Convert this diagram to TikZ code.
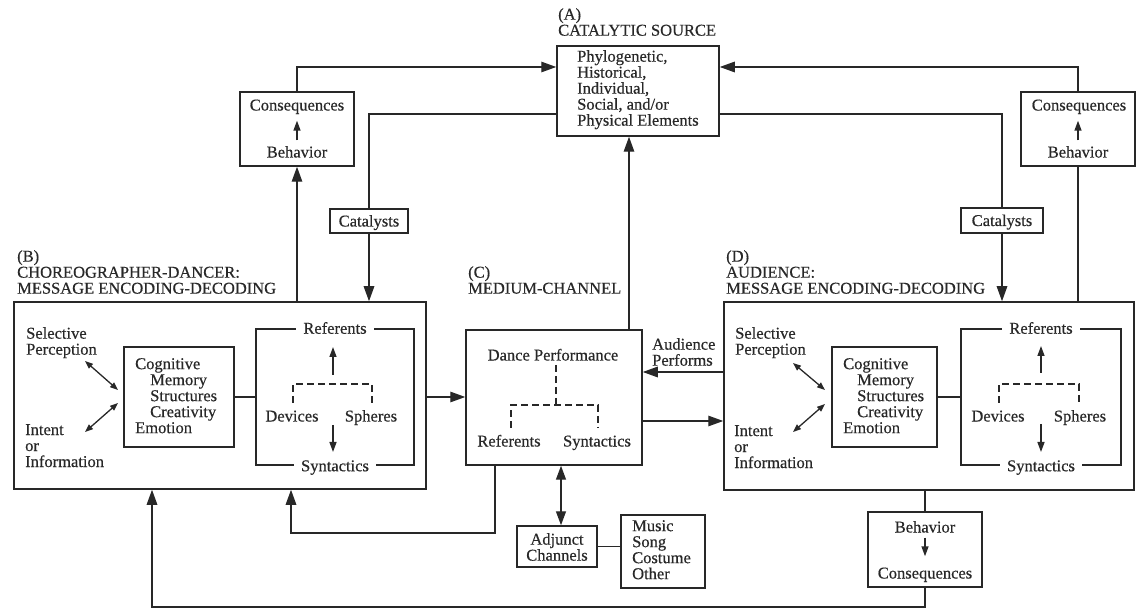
\documentclass[tikz,border=0pt]{standalone}
\usepackage{fontspec}
\setmainfont{Liberation Serif}[FakeBold=0.5]
\usetikzlibrary{arrows.meta}
\definecolor{ink}{RGB}{40,40,40}
\begin{document}
\begin{tikzpicture}[x=1pt,y=-1pt,
  every node/.style={font=\fontsize{16.5}{16}\selectfont, text=ink},
  box/.style={draw=ink, line width=1.5pt, inner sep=0pt},
  lbl/.style={inner sep=0pt, text height=11pt, text depth=0pt},
  para/.style={inner sep=0pt, align=left, anchor=north west},
  ln/.style={draw=ink, line width=1.4pt},
  arr/.style={draw=ink, line width=1.4pt, >={Triangle[length=15pt,width=10.5pt]}, ->},
  sarr/.style={draw=ink, line width=1.4pt, >={Triangle[length=10pt,width=7pt]}, ->},
  darr/.style={draw=ink, line width=1.3pt, >={Triangle[length=8pt,width=6pt]}, <->},
  bdarr/.style={draw=ink, line width=1.4pt, >={Triangle[length=14pt,width=10pt]}, <->},
  dsh/.style={draw=ink, line width=1.3pt, dash pattern=on 7pt off 4pt},
]
\useasboundingbox (0,0) rectangle (1141,609);

% helper levels
\coordinate (tA) at (0,67);
\coordinate (tB) at (0,114);
\coordinate (yBC) at (0,397);
\coordinate (yAP) at (0,372);
\coordinate (yCD) at (0,421);
\coordinate (midb) at (0,533);
\coordinate (bot) at (0,607);
\coordinate (xCup) at (629,0);
\coordinate (xC1) at (495,0);
\coordinate (xB1) at (291,0);
\coordinate (xB2) at (152,0);
\coordinate (xAdj) at (561,0);

% (A) catalytic source
\node[para] (Alab) at (558,8) {(A)\\CATALYTIC SOURCE};
\node[box, minimum width=162pt, minimum height=90pt] (A) at (638,91) {};
\node[para] (Atxt) at (577,50) {Phylogenetic,\\Historical,\\Individual,\\Social, and/or\\Physical Elements};

% consequences boxes (top)
\node[box, minimum width=114pt, minimum height=74pt] (consL) at (297,129) {};
\node[lbl] (conL) at (297,105) {Consequences};
\node[lbl] (behL) at (297,152) {Behavior};
\draw[sarr, shorten <=6pt, shorten >=10pt] (behL.north) -- (conL.south);

\node[box, minimum width=114pt, minimum height=74pt] (consR) at (1078,129) {};
\node[lbl] (conR) at (1079,105) {Consequences};
\node[lbl] (behR) at (1078,152) {Behavior};
\draw[sarr, shorten <=6pt, shorten >=10pt] (behR.north) -- (behR.north |- conR.south);

% catalysts
\node[box, minimum width=78pt, minimum height=24pt] (catL) at (369,221) {};
\node[lbl] (catLt) at (catL.center) {Catalysts};
\node[box, minimum width=82pt, minimum height=25pt] (catR) at (1002,220.5) {};
\node[lbl] (catRt) at (catR.center) {Catalysts};

% (B) choreographer-dancer
\node[para] (Blab) at (17,250) {(B)\\CHOREOGRAPHER-DANCER:\\MESSAGE ENCODING-DECODING};
\node[box, minimum width=412pt, minimum height=187pt] (B) at (220,395.5) {};
\node[para] (selB) at (26,327) {Selective\\Perception};
\node[para] (intB) at (25,424) {Intent\\or\\Information};
\node[box, minimum width=110pt, minimum height=100pt] (cogB) at (179,397) {};
\node[para] (cogBt) at (135,358) {Cognitive\\\hspace*{15pt}Memory\\\hspace*{15pt}Structures\\\hspace*{15pt}Creativity\\Emotion};
\node[box, minimum width=158pt, minimum height=136pt] (brB) at (335,397) {};
\node[lbl, fill=white, inner xsep=7pt] (refB) at (brB.north) {Referents};
\node[lbl, fill=white, inner xsep=7pt] (synB) at (brB.south) {Syntactics};
\node[lbl] (devB) at (292,416) {Devices};
\node[lbl] (sphB) at (371,416) {Spheres};
\coordinate (bU0) at (333,375); \coordinate (bU1) at (333,347);
\coordinate (bD0) at (333,425); \coordinate (bD1) at (333,452);
\draw[sarr] (bU0) -- (bU1);
\draw[sarr] (bD0) -- (bD1);
\draw[dsh] (293,403) -- (293,384) -- (372,384) -- (372,403);
\coordinate (bs0) at (85,361); \coordinate (bs1) at (118,390);
\coordinate (bi0) at (118,403); \coordinate (bi1) at (85,432);
\draw[darr] (bs0) -- (bs1);
\draw[darr] (bi0) -- (bi1);
\draw[ln] (cogB.east) -- (brB.west);

% (C) medium-channel
\node[para] (Clab) at (468,266) {(C)\\MEDIUM-CHANNEL};
\node[box, minimum width=176pt, minimum height=135pt] (C) at (554,397.5) {};
\node[lbl] (dp) at (553,355) {Dance Performance};
\node[lbl] (refC) at (509,441) {Referents};
\node[lbl] (synC) at (597,441) {Syntactics};
\draw[dsh] (556,365) -- (556,405);
\draw[dsh] (511,428) -- (511,405) -- (598,405) -- (598,428);
\node[para] (ap) at (652,338) {Audience\\Performs};

% adjunct channels
\node[box, minimum width=80pt, minimum height=41pt] (adj) at (557,546.5) {};
\node[inner sep=0pt, align=center] (adjt) at (557,547) {Adjunct\\Channels};
\node[box, minimum width=84pt, minimum height=73pt] (music) at (663,551.5) {};
\node[para] (must) at (632,520) {Music\\Song\\Costume\\Other};

% (D) audience
\node[para] (Dlab) at (726,250) {(D)\\AUDIENCE:\\MESSAGE ENCODING-DECODING};
\node[box, minimum width=410pt, minimum height=188pt] (D) at (929,396) {};
\node[para] (selD) at (735,327) {Selective\\Perception};
\node[para] (intD) at (734,425) {Intent\\or\\Information};
\node[box, minimum width=105pt, minimum height=100pt] (cogD) at (884.5,397) {};
\node[para] (cogDt) at (843,358) {Cognitive\\\hspace*{14pt}Memory\\\hspace*{14pt}Structures\\\hspace*{14pt}Creativity\\Emotion};
\node[box, minimum width=160pt, minimum height=136pt] (brD) at (1041,397) {};
\node[lbl, fill=white, inner xsep=7pt] (refD) at (brD.north) {Referents};
\node[lbl, fill=white, inner xsep=7pt] (synD) at (brD.south) {Syntactics};
\node[lbl] (devD) at (998,416) {Devices};
\node[lbl] (sphD) at (1080,416) {Spheres};
\coordinate (dU0) at (1041,373); \coordinate (dU1) at (1041,346);
\coordinate (dD0) at (1041,424); \coordinate (dD1) at (1041,452);
\draw[sarr] (dU0) -- (dU1);
\draw[sarr] (dD0) -- (dD1);
\draw[dsh] (999,403) -- (999,384) -- (1079,384) -- (1079,403);
\coordinate (ds0) at (793,363); \coordinate (ds1) at (825,390);
\coordinate (di0) at (825,404); \coordinate (di1) at (793,432);
\draw[darr] (ds0) -- (ds1);
\draw[darr] (di0) -- (di1);
\draw[ln] (cogD.east) -- (brD.west);

% behavior box below D
\node[box, minimum width=114pt, minimum height=75pt] (behD) at (925,549.5) {};
\node[lbl] (behDt) at (925,527) {Behavior};
\node[lbl] (conDt) at (925,573) {Consequences};
\draw[sarr, shorten <=5pt, shorten >=11pt] (behDt.south) -- (conDt.north);

% connectors
\draw[arr] (consL.north) |- (A.west |- tA);
\draw[arr] (consR.north) |- (A.east |- tA);
\draw[ln] (A.west |- tB) -| (catL.north);
\draw[ln] (A.east |- tB) -| (catR.north);
\draw[arr] (catL.south) -- (catL.south |- B.north);
\draw[arr] (catR.south) -- (catR.south |- D.north);
\draw[arr] (consL.south |- B.north) -- (consL.south);
\draw[ln] (consR.south |- D.north) -- (consR.south);
\draw[arr] (xCup |- C.north) -- (xCup |- A.south);
\draw[arr] (B.east |- yBC) -- (C.west |- yBC);
\draw[arr] (D.west |- yAP) -- (C.east |- yAP);
\draw[arr] (C.east |- yCD) -- (D.west |- yCD);
\draw[arr] (xC1 |- C.south) |- (xB1 |- midb) -- (xB1 |- B.south);
\draw[bdarr] (xAdj |- C.south) -- (xAdj |- adj.north);
\draw[ln] (adj.east) -- (adj.east -| music.west);
\draw[ln] (behD.north |- D.south) -- (behD.north);
\draw[arr] (behD.south) |- (xB2 |- bot) -- (xB2 |- B.south);
\end{tikzpicture}
\end{document}
